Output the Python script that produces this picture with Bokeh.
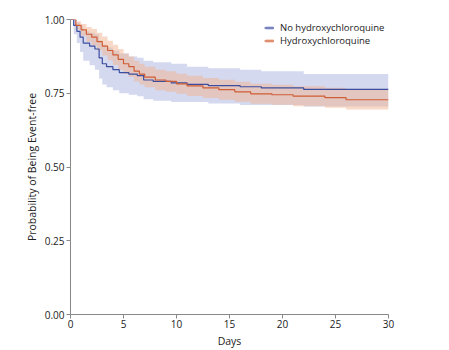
from bokeh.plotting import figure
from bokeh.models import Legend, LegendItem, Range1d, FixedTicker, NumeralTickFormatter
from bokeh.embed import file_html
from bokeh.resources import INLINE

# No hydroxychloroquine
no_t = [0, 0.3, 0.6, 0.9, 1.2, 1.8, 2.3, 2.7, 3.0, 3.4, 4.0, 4.6, 5.5, 6.3, 6.9, 7.8, 9.5, 11.0, 13.0, 16.0, 18.0, 22.0, 30]
no_s = [1.0, 0.98, 0.96, 0.94, 0.92, 0.91, 0.90, 0.87, 0.85, 0.84, 0.83, 0.82, 0.815, 0.81, 0.795, 0.79, 0.785, 0.78, 0.776, 0.772, 0.768, 0.763, 0.763]
no_lo = [1.0, 0.95, 0.92, 0.89, 0.86, 0.845, 0.83, 0.80, 0.78, 0.77, 0.76, 0.75, 0.745, 0.74, 0.73, 0.725, 0.72, 0.72, 0.715, 0.71, 0.71, 0.705, 0.705]
no_hi = [1.0, 1.0, 0.99, 0.98, 0.96, 0.955, 0.95, 0.93, 0.915, 0.905, 0.895, 0.885, 0.875, 0.87, 0.86, 0.855, 0.85, 0.84, 0.835, 0.83, 0.825, 0.815, 0.815]

# Hydroxychloroquine
hq_t = [0, 0.5, 1.0, 1.5, 2.0, 2.5, 3.0, 3.5, 4.0, 4.5, 5.0, 5.5, 6.0, 6.5, 7.0, 8.0, 9.0, 10.0, 11.0, 12.5, 14.0, 15.5, 17.0, 19.0, 21.0, 24.0, 26.0, 30]
hq_s = [1.0, 0.98, 0.965, 0.95, 0.94, 0.925, 0.91, 0.895, 0.88, 0.865, 0.85, 0.84, 0.825, 0.815, 0.805, 0.795, 0.79, 0.782, 0.775, 0.768, 0.762, 0.755, 0.748, 0.745, 0.74, 0.735, 0.728, 0.728]
hq_lo = [1.0, 0.965, 0.945, 0.925, 0.912, 0.895, 0.878, 0.862, 0.846, 0.83, 0.815, 0.805, 0.79, 0.78, 0.77, 0.76, 0.755, 0.748, 0.741, 0.734, 0.728, 0.721, 0.714, 0.711, 0.706, 0.701, 0.695, 0.695]
hq_hi = [1.0, 0.993, 0.985, 0.975, 0.968, 0.955, 0.942, 0.928, 0.914, 0.9, 0.885, 0.875, 0.86, 0.85, 0.84, 0.83, 0.825, 0.816, 0.809, 0.802, 0.796, 0.789, 0.782, 0.779, 0.774, 0.769, 0.762, 0.762]

x_ticks = [0, 5, 10, 15, 20, 25, 30]
y_ticks = [0, 0.25, 0.5, 0.75, 1.0]
labels = ["No hydroxychloroquine", "Hydroxychloroquine"]

BLUE = "#3c4d9f"
BLUE_BAND = "#b7bfe4"
ORANGE = "#cf5d36"
ORANGE_BAND = "#f2b48f"
FONT = "Open Sans"

p = figure(width=449, height=350, output_backend="svg", toolbar_location=None,
           x_range=Range1d(0, 30), y_range=Range1d(0, 1),
           min_border_left=70, min_border_right=61, min_border_top=19, min_border_bottom=36)
p.outline_line_color = None
p.grid.grid_line_color = None
p.background_fill_color = "white"

band_no = p.varea_step(x=no_t, y1=no_lo, y2=no_hi, step_mode="after", fill_color=BLUE_BAND, fill_alpha=0.6)
band_hq = p.varea_step(x=hq_t, y1=hq_lo, y2=hq_hi, step_mode="after", fill_color=ORANGE_BAND, fill_alpha=0.5)
line_no = p.step(x=no_t, y=no_s, mode="after", line_color=BLUE, line_width=1.2)
line_hq = p.step(x=hq_t, y=hq_s, mode="after", line_color=ORANGE, line_width=1.2)

legend = Legend(items=[LegendItem(label=labels[0], renderers=[band_no, line_no]),
                       LegendItem(label=labels[1], renderers=[band_hq, line_hq])],
                location=(194, 267), border_line_color=None, background_fill_alpha=0,
                padding=0, margin=0, spacing=0, glyph_width=10, glyph_height=5,
                label_height=11, label_standoff=6,
                label_text_font=FONT, label_text_font_size="9.5px", label_text_color="#222222")
p.add_layout(legend)

for ax in (p.xaxis, p.yaxis):
    ax.axis_line_color = "#888888"
    ax.major_tick_line_color = "#888888"
    ax.minor_tick_line_color = None
    ax.major_tick_in = 0
    ax.major_tick_out = 4
    ax.major_label_text_font = FONT
    ax.major_label_text_font_size = "10px"
    ax.major_label_text_color = "#222222"
    ax.axis_label_text_font = FONT
    ax.axis_label_text_font_size = "10.5px"
    ax.axis_label_text_font_style = "normal"
    ax.axis_label_text_color = "#222222"

p.xaxis.ticker = FixedTicker(ticks=x_ticks)
p.yaxis.ticker = FixedTicker(ticks=y_ticks)
p.yaxis.formatter = NumeralTickFormatter(format="0.00")
p.xaxis.axis_label = "Days"
p.yaxis.axis_label = "Probability of Being Event-free"
p.xaxis.major_label_standoff = 1
p.yaxis.major_label_standoff = 2
p.xaxis.axis_label_standoff = 3
p.yaxis.axis_label_standoff = 3

open("out.html", "w").write(file_html(p, INLINE))
